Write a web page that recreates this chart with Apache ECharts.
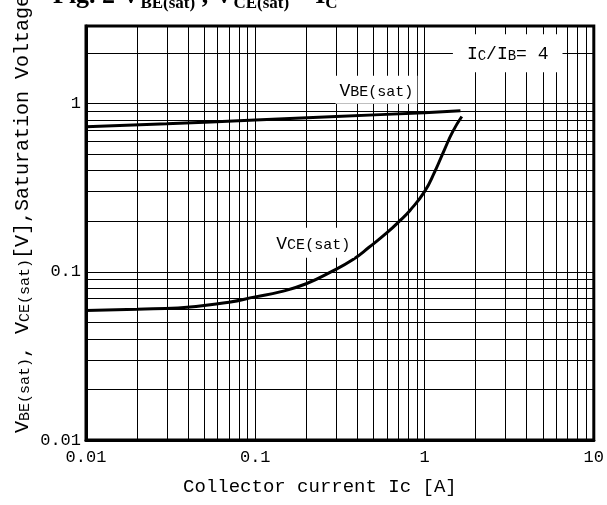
<!DOCTYPE html>
<html>
<head>
<meta charset="utf-8">
<script src="https://cdn.jsdelivr.net/npm/echarts@6/dist/echarts.min.js"></script>
<style>
	html, body { margin: 0; padding: 0; background: #fff; }
	#chart { width: 607px; height: 505px; }
</style>
</head>
<body>
<div id="chart"></div>
<script>
// ---- data ----
var xTickLabels = ['0.01', '0.1', '1', '10'];
var yTickLabels = ['0.01', '0.1', '1'];

// minor grid values (log paper)
var xMinor = [0.02, 0.03, 0.04, 0.05, 0.06, 0.07, 0.08, 0.09,
	0.2, 0.3, 0.4, 0.5, 0.6, 0.7, 0.8, 0.9,
	2, 3, 4, 5, 6, 7, 8, 9];
var yMinor = [0.02, 0.03, 0.04, 0.05, 0.06, 0.07, 0.08, 0.09,
	0.2, 0.3, 0.4, 0.5, 0.6, 0.7, 0.8, 0.9, 2];

// Ic [A], V
var vbeSat = [[0.01, 0.73], [0.03, 0.76], [0.1, 0.80], [0.3, 0.84], [1, 0.885], [1.63, 0.91]];
var vceSat = [[0.01, 0.059], [0.02, 0.060], [0.035, 0.061], [0.07, 0.066], [0.1, 0.071],
	[0.14, 0.076], [0.2, 0.085], [0.28, 0.1], [0.38, 0.119], [0.47, 0.14],
	[0.6, 0.171], [0.72, 0.203], [0.82, 0.232], [1.0, 0.3], [1.15, 0.395],
	[1.31, 0.532], [1.47, 0.685], [1.66, 0.84]];

var MONO = 'Liberation Mono';
var chart = echarts.init(document.getElementById('chart'));

function decadeLabel(list, minExp) {
	return function(v) {
		var e = Math.log(v) / Math.LN10;
		var r = Math.round(e);
		if (Math.abs(e - r) > 1e-6) return '';
		return list[r - minExp] || '';
	};
}

var option = {
	backgroundColor: '#fff',
	animation: false,
	title: {
		text: '{b|Fig. 2 V}{s|BE(sat)}{b| , V}{s|CE(sat)}{b| – I}{s|C}',
		left: 53,
		top: -16,
		padding: 0,
		textStyle: {
			rich: {
				b: { fontFamily: 'Liberation Serif', fontWeight: 'bold', fontSize: 26, color: '#000', verticalAlign: 'bottom', lineHeight: 28, padding: [0, 0, 3, 0] },
				s: { fontFamily: 'Liberation Serif', fontWeight: 'bold', fontSize: 17, color: '#000', verticalAlign: 'bottom', lineHeight: 22 }
			}
		}
	},
	grid: {
		left: 86, right: 8, top: 26, bottom: 65,
		show: true, borderColor: '#000', borderWidth: 3
	},
	xAxis: {
		type: 'log',
		logBase: 10,
		min: 0.01,
		max: 10,
		axisLine: { lineStyle: { color: '#000', width: 3 } },
		axisTick: { show: false },
		splitLine: { show: true, lineStyle: { color: '#000', width: 1 } },
		axisLabel: { color: '#000', fontFamily: MONO, fontSize: 17, margin: 9, formatter: decadeLabel(xTickLabels, -2) },
		name: 'Collector current Ic [A]',
		nameLocation: 'middle',
		nameGap: 37,
		nameTextStyle: { color: '#000', fontFamily: MONO, fontSize: 19, padding: [0, 40, 0, 0] }
	},
	yAxis: {
		type: 'log',
		logBase: 10,
		min: 0.01,
		max: 2.9,
		axisLine: { lineStyle: { color: '#000', width: 3 } },
		axisTick: { show: false },
		splitLine: { show: true, lineStyle: { color: '#000', width: 1 } },
		axisLabel: { color: '#000', fontFamily: MONO, fontSize: 17, margin: 5, formatter: decadeLabel(yTickLabels, -2) }
	},
	graphic: [{
		type: 'text',
		x: 22,
		y: 214,
		rotation: Math.PI / 2,
		style: {
			text: '{a|V}{s|BE(sat)}{a|, V}{s|CE(sat)}{a|[V],Saturation Voltage}',
			textAlign: 'center',
			textVerticalAlign: 'middle',
			rich: {
				a: { fontFamily: MONO, fontSize: 20, fill: '#000', verticalAlign: 'bottom', lineHeight: 22 },
				s: { fontFamily: MONO, fontSize: 15, fill: '#000', verticalAlign: 'bottom', lineHeight: 20 }
			}
		}
	}],
	series: [{
		// log paper minor grid
		name: 'grid',
		type: 'line',
		data: [],
		z: 1,
		silent: true,
		markLine: {
			silent: true,
			animation: false,
			symbol: ['none', 'none'],
			label: { show: false },
			lineStyle: { color: '#000', width: 1, type: 'solid' },
			data: xMinor.map(function(v) { return { xAxis: v }; })
				.concat(yMinor.map(function(v) { return { yAxis: v }; }))
		}
	}, {
		name: 'VBE(sat)',
		type: 'line',
		data: vbeSat,
		smooth: true,
		showSymbol: false,
		z: 3,
		lineStyle: { color: '#000', width: 3 }
	}, {
		name: 'VCE(sat)',
		type: 'line',
		data: vceSat,
		smooth: true,
		showSymbol: false,
		z: 3,
		lineStyle: { color: '#000', width: 3 }
	}, {
		// annotations
		name: 'labels',
		type: 'line',
		data: [],
		z: 5,
		markPoint: {
			symbol: 'rect',
			symbolSize: 0,
			animation: false,
			label: {
				show: true,
				position: 'inside',
				backgroundColor: '#fff',
				rich: {
					a: { fontFamily: MONO, fontSize: 18, color: '#000', verticalAlign: 'bottom', lineHeight: 20 },
					s: { fontFamily: MONO, fontSize: 15, color: '#000', verticalAlign: 'bottom', lineHeight: 19 },
					c: { fontFamily: MONO, fontSize: 14, color: '#000', verticalAlign: 'bottom', lineHeight: 18 }
				}
			},
			data: [{
				coord: [3.1, 2.0],
				label: { formatter: '{a|I}{c|C}{a|/I}{c|B}{a|= 4}', padding: [9, 14] }
			}, {
				coord: [0.52, 1.21],
				label: { formatter: '{a|V}{s|BE(sat)}', padding: [4, 4] }
			}, {
				coord: [0.22, 0.149],
				label: { formatter: '{a|V}{s|CE(sat)}', padding: [5, 4] }
			}]
		}
	}]
};
chart.setOption(option);
</script>
</body>
</html>
